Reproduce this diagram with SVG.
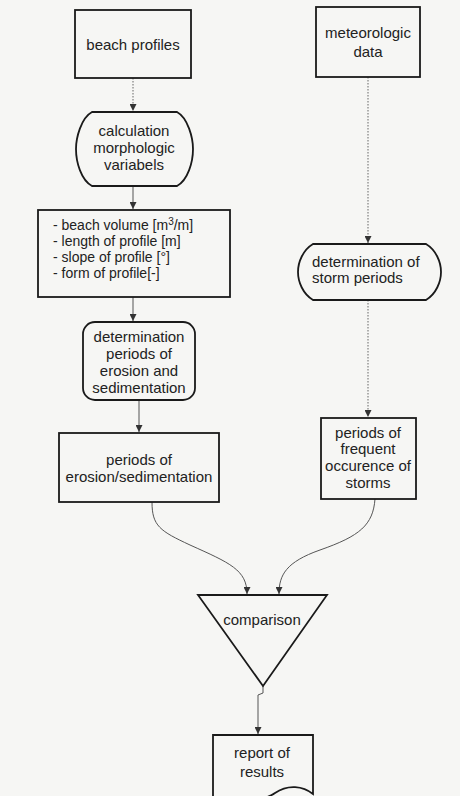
<svg xmlns="http://www.w3.org/2000/svg" width="460" height="796" viewBox="0 0 460 796">
<style>
  .box { fill: none; stroke: #1a1a1a; stroke-width: 1.8; }
  .t { font-family: "Liberation Sans", Arial, sans-serif; font-size: 15px; fill: #222; text-anchor: middle; }
  .tl { font-family: "Liberation Sans", Arial, sans-serif; font-size: 15px; fill: #222; }
  .tv { font-family: "Liberation Sans", Arial, sans-serif; font-size: 14px; fill: #222; }
  .c { fill: none; stroke: #555; stroke-width: 1; }
  .d { fill: none; stroke: #666; stroke-width: 1; stroke-dasharray: 1.5 1.5; }
</style>
<defs>
  <marker id="ah" viewBox="0 0 10 10" refX="10" refY="5" markerUnits="userSpaceOnUse" markerWidth="9" markerHeight="7" orient="auto">
    <path d="M0,0 L10,5 L0,10 z" fill="#333"/>
  </marker>
</defs>
<rect x="0" y="0" width="460" height="796" fill="#f6f6f4"/>

<g id="connectors">
  <path class="d" d="M133,78 V111" marker-end="url(#ah)"/>
  <path class="c" d="M133,186 V209" marker-end="url(#ah)"/>
  <path class="c" d="M133,297 V321" marker-end="url(#ah)"/>
  <path class="c" d="M139,400 V432" marker-end="url(#ah)"/>
  <path class="d" d="M368,77 V243" marker-end="url(#ah)"/>
  <path class="d" d="M368,300 V417" marker-end="url(#ah)"/>
  <path class="c" d="M152,502 C152,526 160,531 190,545 C230,563 247,570 247,594" marker-end="url(#ah)"/>
  <path class="c" d="M375,499 C373,525 360,536 320,550 C286,562 279,575 279,594" marker-end="url(#ah)"/>
  <path class="c" d="M263,686 V693 L258,695 V734" marker-end="url(#ah)"/>
</g>

<g id="beach-profiles">
  <rect class="box" x="75" y="10" width="116" height="68"/>
  <text class="t" x="133" y="50">beach profiles</text>
</g>

<g id="meteorologic-data">
  <rect class="box" x="316" y="7" width="104" height="70"/>
  <text class="t" x="368" y="38">meteorologic</text>
  <text class="t" x="368" y="57">data</text>
</g>

<g id="calculation">
  <path class="box" d="M92,112 H177 C188,118 193,138 193,149 C193,162 188,180 177,186 H92 C81,180 76,162 76,149 C76,138 81,118 92,112 Z"/>
  <text class="t" x="134" y="136">calculation</text>
  <text class="t" x="134" y="153">morphologic</text>
  <text class="t" x="134" y="170">variabels</text>
</g>

<g id="variables">
  <rect class="box" x="38" y="210" width="192" height="87"/>
  <text class="tv" x="53" y="230">- beach volume [m<tspan font-size="10" dy="-5">3</tspan><tspan dy="5">/m]</tspan></text>
  <text class="tv" x="53" y="246">- length of  profile [m]</text>
  <text class="tv" x="53" y="262">- slope of profile [°]</text>
  <text class="tv" x="53" y="278">- form of profile[-]</text>
</g>

<g id="storm-periods">
  <path class="box" d="M313,244 H426 C436,250 441,262 441,272 C441,282 436,294 426,300 H313 C303,294 298,282 298,272 C298,262 303,250 313,244 Z"/>
  <text class="tl" x="312" y="267">determination of</text>
  <text class="tl" x="312" y="283">storm periods</text>
</g>

<g id="determination-erosion">
  <rect class="box" x="83" y="322" width="112" height="78" rx="12" ry="12"/>
  <text class="t" x="139" y="342">determination</text>
  <text class="t" x="139" y="359">periods of</text>
  <text class="t" x="139" y="376">erosion and</text>
  <text class="t" x="139" y="393">sedimentation</text>
</g>

<g id="periods-erosion">
  <rect class="box" x="59" y="433" width="160" height="69"/>
  <text class="t" x="139" y="465">periods of</text>
  <text class="t" x="139" y="482">erosion/sedimentation</text>
</g>

<g id="periods-storms">
  <rect class="box" x="321" y="418" width="95" height="81"/>
  <text class="t" x="368" y="438" font-size="14">periods of</text>
  <text class="t" x="368" y="454" font-size="14">frequent</text>
  <text class="t" x="368" y="471" font-size="14">occurence of</text>
  <text class="t" x="368" y="488" font-size="14">storms</text>
</g>

<g id="comparison">
  <polygon class="box" points="198,595 327,595 263,686"/>
  <text class="t" x="262" y="625">comparison</text>
</g>

<g id="report">
  <path class="box" d="M213,735 H313 V794 C303,786 288,784 275,793 C265,800 240,805 213,800 Z"/>
  <text class="t" x="262" y="758">report of</text>
  <text class="t" x="262" y="777">results</text>
</g>
</svg>
